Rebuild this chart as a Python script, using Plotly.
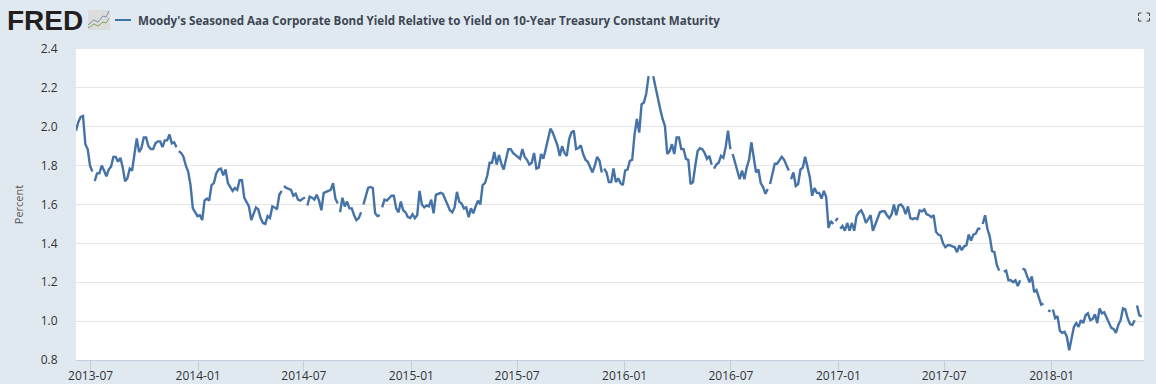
import pandas as pd
import plotly.graph_objects as go

series_name = "Moody's Seasoned Aaa Corporate Bond Yield Relative to Yield on 10-Year Treasury Constant Maturity"
first_date = "2013-06-06"
step_days = 4
values = [
    1.98, 2.025, 2.05, 2.055, 1.91, 1.885, 1.80, 1.77, 1.72, 1.76,
    1.76, 1.80, 1.775, 1.745, 1.78, 1.795, 1.845, 1.845, 1.82, 1.84,
    1.79, 1.72, 1.735, 1.785, 1.775, 1.86, 1.94, 1.87, 1.89, 1.945,
    1.945, 1.90, 1.885, 1.885, 1.915, 1.925, 1.925, 1.895, 1.93, 1.93,
    1.96, 1.915, 1.92, 1.895, 1.875, 1.865, 1.845, 1.80, 1.77, 1.70,
    1.58, 1.56, 1.54, 1.545, 1.52, 1.62, 1.63, 1.62, 1.70, 1.71,
    1.76, 1.78, 1.785, 1.75, 1.78, 1.71, 1.69, 1.67, 1.685, 1.675,
    1.725, 1.725, 1.635, 1.61, 1.59, 1.52, 1.55, 1.585, 1.575, 1.53,
    1.505, 1.50, 1.54, 1.53, 1.59, 1.585, 1.575, 1.65, 1.67, 1.695,
    1.685, 1.68, 1.675, 1.645, 1.655, 1.625, 1.62, 1.63, 1.635, 1.595,
    1.64, 1.635, 1.625, 1.65, 1.62, 1.57, 1.66, 1.665, 1.67, 1.675,
    1.71, 1.63, 1.605, 1.56, 1.635, 1.59, 1.615, 1.58, 1.58, 1.545,
    1.52, 1.53, 1.56, 1.60, 1.65, 1.685, 1.69, 1.685, 1.555, 1.54,
    1.545, 1.585, 1.625, 1.62, 1.635, 1.645, 1.645, 1.58, 1.56, 1.615,
    1.57, 1.56, 1.535, 1.53, 1.55, 1.53, 1.545, 1.67, 1.60, 1.585,
    1.595, 1.59, 1.625, 1.555, 1.65, 1.655, 1.66, 1.655, 1.625, 1.605,
    1.57, 1.56, 1.585, 1.665, 1.615, 1.605, 1.58, 1.585, 1.535, 1.58,
    1.555, 1.59, 1.62, 1.60, 1.70, 1.71, 1.75, 1.815, 1.815, 1.87,
    1.805, 1.855, 1.81, 1.78, 1.83, 1.885, 1.885, 1.865, 1.855, 1.845,
    1.835, 1.885, 1.845, 1.83, 1.805, 1.815, 1.865, 1.785, 1.79, 1.86,
    1.835, 1.885, 1.935, 1.99, 1.97, 1.935, 1.905, 1.85, 1.90, 1.865,
    1.85, 1.935, 1.97, 1.98, 1.885, 1.89, 1.905, 1.86, 1.83, 1.82,
    1.79, 1.765, 1.80, 1.845, 1.825, 1.765, 1.785, 1.765, 1.715, 1.715,
    1.785, 1.715, 1.735, 1.71, 1.70, 1.775, 1.78, 1.825, 1.83, 1.96,
    2.04, 1.97, 2.115, 2.125, 2.17, 2.26, None, 2.26, 2.20, 2.14,
    2.09, 2.04, 2.005, 1.86, 1.875, 1.91, 1.86, 1.945, 1.945, 1.885,
    1.885, 1.835, 1.83, 1.705, 1.715, 1.80, 1.875, 1.89, 1.885, 1.865,
    1.835, 1.85, 1.805, 1.785, 1.805, 1.815, 1.85, 1.84, 1.895, 1.98,
    1.885, 1.86, 1.815, 1.765, 1.73, 1.775, 1.73, 1.79, 1.83, 1.92,
    1.83, 1.765, 1.78, 1.71, 1.69, 1.655, 1.68, 1.705, 1.76, 1.81,
    1.81, 1.825, 1.845, 1.83, 1.805, 1.775, 1.73, 1.765, 1.695, 1.705,
    1.78, 1.79, 1.845, 1.80, 1.74, 1.645, 1.685, 1.66, 1.66, 1.63,
    1.67, 1.64, 1.48, 1.515, 1.50, 1.515, 1.53, 1.475, 1.49, 1.465,
    1.505, 1.465, 1.505, 1.465, 1.54, 1.56, 1.57, 1.545, 1.505, 1.525,
    1.545, 1.465, 1.50, 1.525, 1.56, 1.565, 1.565, 1.545, 1.53, 1.55,
    1.60, 1.545, 1.595, 1.60, 1.585, 1.55, 1.59, 1.53, 1.525, 1.53,
    1.525, 1.57, 1.565, 1.575, 1.55, 1.545, 1.535, 1.545, 1.46, 1.445,
    1.44, 1.40, 1.38, 1.39, 1.39, 1.385, 1.38, 1.355, 1.39, 1.365,
    1.385, 1.39, 1.445, 1.415, 1.445, 1.45, 1.475, 1.475, 1.50, 1.545,
    1.475, 1.435, 1.36, 1.355, 1.29, 1.26, None, 1.255, 1.26, 1.21,
    1.21, 1.20, 1.21, 1.18, 1.21, 1.27, 1.265, 1.23, 1.20, 1.23,
    1.15, 1.16, 1.125, 1.085, 1.09, None, 1.055, 1.05, 1.06, 1.015,
    1.025, 0.95, 0.94, 0.945, 0.92, 0.85, 0.91, 0.97, 0.99, 0.97,
    1.005, 0.99, 1.03, 1.04, 1.005, 1.01, 1.035, 0.99, 1.065, 1.04,
    1.045, 1.015, 0.985, 0.965, 0.96, 0.94, 0.98, 1.005, 1.065, 1.06,
    1.015, 0.985, 0.98, 1.005, 1.08, 1.03, 1.025,
]
# samples after which the published series has a missing observation
missing_after = [7, 43, 88, 98, 112, 122, 130, 225, 272, 280, 296, 305, 324, 326, 387, 404, 417, 453]

x_tick_dates = ["2013-07-01", "2014-01-01", "2014-07-01", "2015-01-01", "2015-07-01", "2016-01-01",
                "2016-07-01", "2017-01-01", "2017-07-01", "2018-01-01"]
x_tick_labels = ["2013-07", "2014-01", "2014-07", "2015-01", "2015-07", "2016-01",
                 "2016-07", "2017-01", "2017-07", "2018-01"]
y_ticks = [0.8, 1.0, 1.2, 1.4, 1.6, 1.8, 2.0, 2.2, 2.4]
x_range = ["2013-06-06", "2018-06-08"]

LINE = "#4572a7"
BG = "#e1e9f0"
FONT = "Open Sans"

dates = pd.date_range(first_date, periods=len(values), freq=f"{step_days}D")
xs, ys = [], []
for i, (d, v) in enumerate(zip(dates, values)):
    xs.append(d)
    ys.append(v)
    if i in missing_after:
        xs.append(d + pd.Timedelta(days=step_days / 2))
        ys.append(None)

fig = go.Figure(go.Scatter(x=xs, y=ys, mode="lines", connectgaps=False,
                           line=dict(color=LINE, width=2.4), showlegend=False,
                           hoverinfo="x+y"))

W, H = 1156, 384
ML, MR, MT, MB = 76, 11.5, 49, 24


def px(x):
    return (x - ML) / (W - ML - MR)


def py(y):
    return 1 - (y - MT) / (H - MT - MB)


shapes = [
    # legend key
    dict(type="line", xref="paper", yref="paper", x0=px(115), x1=px(131), y0=py(20), y1=py(20),
         line=dict(color=LINE, width=2)),
    # FRED graph icon
    dict(type="rect", xref="paper", yref="paper", x0=px(88), x1=px(110), y0=py(30), y1=py(10),
         fillcolor="#dcdcdc", line=dict(width=0)),
    dict(type="path", xref="paper", yref="paper",
         path=f"M {px(88)} {py(25)} L {px(94)} {py(20)} L {px(98)} {py(22)} L {px(103)} {py(16)} L {px(106)} {py(17)} L {px(109)} {py(11)}",
         line=dict(color="#7d93a8", width=1)),
    dict(type="path", xref="paper", yref="paper",
         path=f"M {px(88)} {py(28)} L {px(94)} {py(24)} L {px(98)} {py(26)} L {px(103)} {py(22)} L {px(106)} {py(23)} L {px(109)} {py(18)}",
         line=dict(color="#84a35c", width=1)),
]
# fullscreen icon corners
for cx, cy, dx, dy in [(1139, 13, 1, 1), (1150, 13, -1, 1), (1139, 21, 1, -1), (1150, 21, -1, -1)]:
    shapes.append(dict(type="path", xref="paper", yref="paper",
                       path=f"M {px(cx + 3 * dx)} {py(cy)} L {px(cx)} {py(cy)} L {px(cx)} {py(cy + 3 * dy)}",
                       line=dict(color="#444444", width=1)))

fig.update_layout(
    width=W, height=H, autosize=False,
    margin=dict(l=ML, r=MR, t=MT, b=MB, pad=0, autoexpand=False),
    paper_bgcolor=BG, plot_bgcolor="#ffffff",
    font=dict(family=FONT, size=12, color="#333333"),
    xaxis=dict(type="date", range=x_range, tickmode="array", tickvals=x_tick_dates, ticktext=x_tick_labels,
               showgrid=False, zeroline=False, showline=True, linecolor="#c0d0e0", linewidth=1,
               ticks="outside", ticklen=10, tickcolor="#c0d0e0", tickwidth=1, automargin=False,
               ticklabelstandoff=-5,
               tickfont=dict(family=FONT, size=12, color="#333333"), fixedrange=True),
    yaxis=dict(range=[0.8, 2.4], tickmode="array", tickvals=y_ticks, ticktext=[f"{t:.1f}" for t in y_ticks],
               gridcolor="#e6e6e6", gridwidth=1, zeroline=False, showline=False, automargin=False,
               ticks="outside", ticklen=15, tickcolor="rgba(0,0,0,0)", tickwidth=1,
               tickfont=dict(family=FONT, size=12, color="#333333"),
               title=dict(text="Percent", font=dict(family=FONT, size=11, color="#555555"), standoff=14),
               fixedrange=True),
    shapes=shapes,
    annotations=[
        dict(text="<b>FRED</b>", xref="paper", yref="paper", x=px(5), y=py(20), xanchor="left", yanchor="middle",
             showarrow=False, font=dict(family="Liberation Sans", size=28, color="#231f20")),
        dict(text=f"<b>{series_name}</b>", xref="paper", yref="paper", x=px(136), y=py(20), xanchor="left",
             yanchor="middle", showarrow=False, font=dict(family=FONT, size=11.6, color="#3d4654")),
    ],
)

fig.write_html("out.html", post_script="document.body.style.margin='0';", config={"displayModeBar": False})
